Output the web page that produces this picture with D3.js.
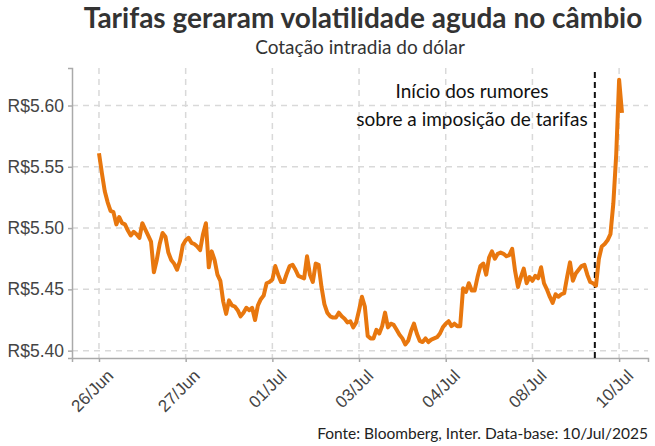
<!DOCTYPE html>
<html>
<head>
<meta charset="utf-8">
<script src="https://cdn.jsdelivr.net/npm/d3@7.9.0/dist/d3.min.js"></script>
<style>
  html, body { margin: 0; padding: 0; background: #fff; }
  svg { display: block; font-family: Lato, "Open Sans", sans-serif; }
</style>
</head>
<body>
<svg id="chart" width="655" height="446"></svg>
<script>
// intraday USD/BRL quotes, one reading per step (30 steps between labelled ticks)
const usdbrl = [
  5.561, 5.545, 5.530, 5.521, 5.514, 5.513, 5.503, 5.509, 5.504, 5.503,
  5.498, 5.494, 5.497, 5.495, 5.492, 5.504, 5.499, 5.494, 5.489, 5.464,
  5.474, 5.487, 5.496, 5.493, 5.480, 5.474, 5.471, 5.466, 5.473, 5.486,
  5.490, 5.492, 5.488, 5.487, 5.485, 5.482, 5.495, 5.504, 5.468, 5.481,
  5.474, 5.462, 5.457, 5.440, 5.430, 5.441, 5.437, 5.436, 5.433, 5.428,
  5.431, 5.435, 5.433, 5.435, 5.425, 5.437, 5.442, 5.445, 5.455, 5.456,
  5.458, 5.469, 5.462, 5.456, 5.456, 5.463, 5.469, 5.470, 5.466, 5.461,
  5.460, 5.459, 5.477, 5.462, 5.456, 5.471, 5.470, 5.452, 5.438, 5.431,
  5.428, 5.427, 5.427, 5.431, 5.428, 5.426, 5.423, 5.424, 5.419, 5.423,
  5.433, 5.444, 5.436, 5.412, 5.410, 5.410, 5.417, 5.414, 5.420, 5.431,
  5.419, 5.422, 5.421, 5.417, 5.413, 5.410, 5.405, 5.408, 5.416, 5.422,
  5.414, 5.408, 5.407, 5.410, 5.407, 5.409, 5.410, 5.411, 5.414, 5.419,
  5.422, 5.424, 5.420, 5.422, 5.420, 5.420, 5.451, 5.448, 5.455, 5.449,
  5.449, 5.460, 5.469, 5.471, 5.462, 5.476, 5.481, 5.475, 5.479, 5.480,
  5.479, 5.477, 5.478, 5.483, 5.465, 5.452, 5.460, 5.467, 5.455, 5.460,
  5.457, 5.461, 5.459, 5.468, 5.455, 5.450, 5.444, 5.439, 5.446, 5.444,
  5.446, 5.447, 5.460, 5.472, 5.457, 5.463, 5.466, 5.469, 5.470, 5.462,
  5.456, 5.455, 5.453, 5.475, 5.485, 5.487, 5.490, 5.495, 5.520, 5.560,
  5.621, 5.594
];

const tickSteps  = [0, 30, 60, 90, 120, 150, 180];
const tickLabels = ['26/Jun', '27/Jun', '01/Jul', '03/Jul', '04/Jul', '08/Jul', '10/Jul'];
const yTicks     = [5.40, 5.45, 5.50, 5.55, 5.60];
const rumorStep  = 171.6;

const title    = 'Tarifas geraram volatilidade aguda no câmbio';
const subtitle = 'Cotação intradia do dólar';
const note     = ['Início dos rumores', 'sobre a imposição de tarifas'];
const caption  = 'Fonte: Bloomberg, Inter. Data-base: 10/Jul/2025';

const W = 655, H = 446;
const m = { left: 72, right: 7, top: 68, bottom: 88 };

const svg = d3.select('#chart');

const x = d3.scaleLinear().domain([-9.34, 190]).range([m.left, W - m.right]);
const y = d3.scaleLinear().domain([5.394, 5.6306]).range([H - m.bottom, m.top]);

// grid
svg.append('g')
  .selectAll('line.h')
  .data(yTicks)
  .join('line')
  .attr('x1', m.left).attr('x2', W - m.right)
  .attr('y1', d => y(d)).attr('y2', d => y(d))
  .attr('stroke', '#d9d9d9').attr('stroke-width', 1.5)
  .attr('stroke-dasharray', '6,5');

svg.append('g')
  .selectAll('line.v')
  .data(tickSteps)
  .join('line')
  .attr('x1', d => x(d)).attr('x2', d => x(d))
  .attr('y1', m.top).attr('y2', H - m.bottom)
  .attr('stroke', '#d9d9d9').attr('stroke-width', 1.5)
  .attr('stroke-dasharray', '6,5');

// axes
const xAxis = svg.append('g')
  .attr('transform', `translate(0,${H - m.bottom})`)
  .call(d3.axisBottom(x).tickValues(tickSteps)
    .tickFormat((d, i) => tickLabels[i]).tickSize(4).tickPadding(4));
xAxis.select('.domain').attr('stroke', '#aaa').attr('stroke-width', 1.5);
xAxis.selectAll('.tick line').attr('stroke', '#aaa').attr('stroke-width', 1.5);
xAxis.selectAll('text')
  .attr('font-size', 17).attr('fill', '#444')
  .attr('text-anchor', 'end')
  .attr('dy', '0.35em')
  .attr('transform', 'translate(5,9) rotate(-45)');

const yAxis = svg.append('g')
  .attr('transform', `translate(${m.left},0)`)
  .call(d3.axisLeft(y).tickValues(yTicks)
    .tickFormat(d => 'R$' + d3.format('.2f')(d)).tickSize(4).tickPadding(4));
yAxis.select('.domain').attr('stroke', '#aaa').attr('stroke-width', 1.5);
yAxis.selectAll('.tick line').attr('stroke', '#aaa').attr('stroke-width', 1.5);
yAxis.selectAll('text').attr('font-size', 17.5).attr('fill', '#444');

// rumours marker
svg.append('line')
  .attr('x1', x(rumorStep)).attr('x2', x(rumorStep))
  .attr('y1', m.top + 4).attr('y2', H - m.bottom)
  .attr('stroke', '#111').attr('stroke-width', 2)
  .attr('stroke-dasharray', '6,4');

svg.append('text')
  .attr('x', 472).attr('y', 98)
  .attr('text-anchor', 'middle')
  .attr('font-size', 19).attr('fill', '#111')
  .selectAll('tspan')
  .data(note)
  .join('tspan')
  .attr('x', 472)
  .attr('dy', (d, i) => i ? 28 : 0)
  .text(d => d);

// series
const line = d3.line()
  .x((d, i) => x(i))
  .y(d => y(d));

svg.append('path')
  .datum(usdbrl)
  .attr('d', line)
  .attr('fill', 'none')
  .attr('stroke', '#E8770E')
  .attr('stroke-width', 4)
  .attr('stroke-linejoin', 'round');

// titles
svg.append('text')
  .attr('x', (m.left + W - m.right) / 2 + 3).attr('y', 28)
  .attr('text-anchor', 'middle')
  .attr('font-size', 28).attr('font-weight', 700).attr('fill', '#333')
  .text(title);

svg.append('text')
  .attr('x', (m.left + W - m.right) / 2).attr('y', 54)
  .attr('text-anchor', 'middle')
  .attr('font-size', 19).attr('fill', '#333')
  .text(subtitle);

svg.append('text')
  .attr('x', W - 7).attr('y', 439)
  .attr('text-anchor', 'end')
  .attr('font-size', 15.5).attr('fill', '#222')
  .text(caption);
</script>
</body>
</html>
